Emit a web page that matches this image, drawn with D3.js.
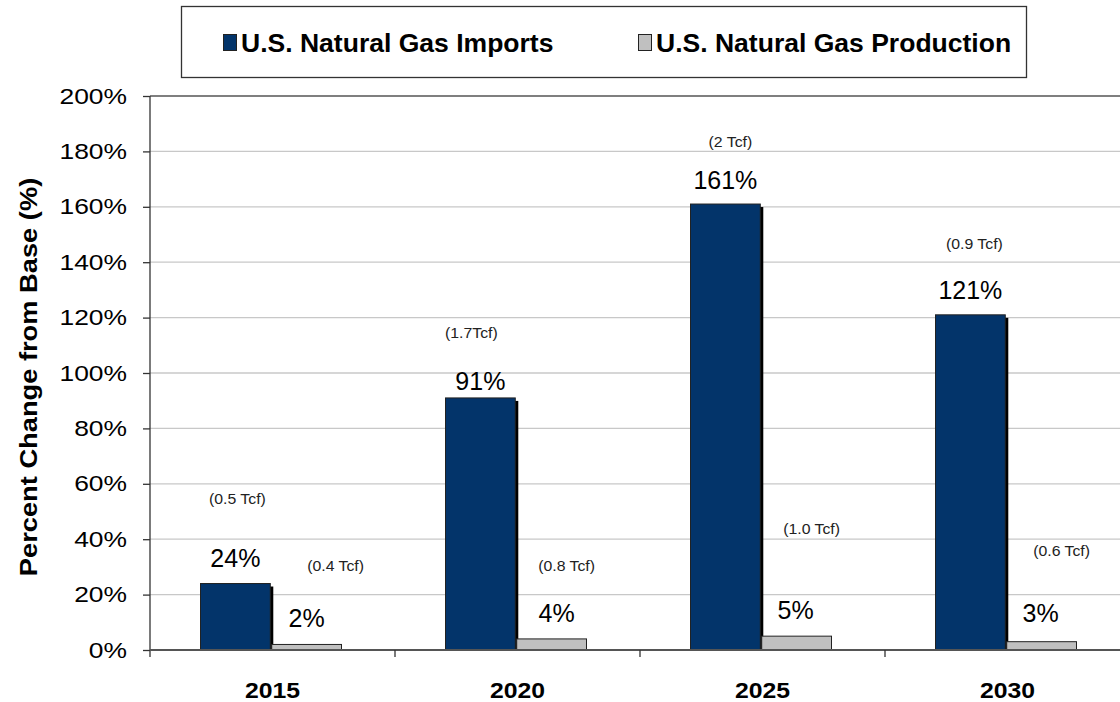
<!DOCTYPE html>
<html><head><meta charset="utf-8">
<script src="https://cdn.jsdelivr.net/npm/d3@7"></script>
<style>
html,body{margin:0;padding:0;background:#fff;}
svg{display:block;font-family:Arial,"Liberation Sans",sans-serif;}
</style></head>
<body><svg id="c" width="1120" height="702"></svg>
<script>
const categories = ["2015", "2020", "2025", "2030"];
const seriesNames = ["U.S. Natural Gas Imports", "U.S. Natural Gas Production"];
const importsPct = [24, 91, 161, 121];
const productionPct = [2, 4, 5, 3];
const importsTcf = ["(0.5 Tcf)", "(1.7Tcf)", "(2 Tcf)", "(0.9 Tcf)"];
const productionTcf = ["(0.4 Tcf)", "(0.8 Tcf)", "(1.0 Tcf)", "(0.6 Tcf)"];
const yTicks = [0, 20, 40, 60, 80, 100, 120, 140, 160, 180, 200];
// annotation anchors (value level in %, horizontal offset from bar centre in px)
const importsPctAt = [33.2, 97.1, 169.7, 130];
const importsTcfAt = [54.5, 114.4, 183.4, 146.6];
const importsTcfDx = [2, -9, 5, 4];
const productionPctAt = [11.6, 13.4, 14.4, 13.4];
const productionPctDx = [0, 5, -1, -1];
const productionTcfAt = [30.3, 30.3, 43.7, 35.7];
const productionTcfDx = [29, 15, 15, 20];

const colors = ["#03346a", "#c0c0c0"];
const svg = d3.select("#c");
const pLeft = 150, pRight = 1130, pTop = 96, pBottom = 650;

function stretch(sel, f) {
  sel.each(function () {
    const w = this.getComputedTextLength();
    d3.select(this).attr("textLength", w * f).attr("lengthAdjust", "spacingAndGlyphs");
  });
}

const y = d3.scaleLinear().domain([0, 200]).range([pBottom, pTop]);
const x = d3.scaleBand().domain(categories).range([pLeft, pRight]).padding(0);
const bw = x.bandwidth();
const x1 = d3.scaleBand().domain(seriesNames).range([bw / 2 - 72, bw / 2 + 69]).paddingInner(0.02);

// gridlines
svg.append("g").selectAll("line").data(yTicks.filter(d => d > 0 && d < 200)).join("line")
  .attr("x1", pLeft).attr("x2", 1120).attr("y1", d => y(d)).attr("y2", d => y(d))
  .attr("stroke", "#c8c8c8").attr("stroke-width", 1.3);
svg.append("line").attr("x1", pLeft).attr("x2", 1120).attr("y1", y(200)).attr("y2", y(200))
  .attr("stroke", "#555").attr("stroke-width", 1.3);

// y axis
const yAxis = d3.axisLeft(y).tickValues(yTicks).tickFormat(d => d + "%").tickSize(7).tickPadding(16);
const gy = svg.append("g").attr("transform", `translate(${pLeft},0)`).call(yAxis);
gy.select(".domain").attr("stroke", "#333").attr("stroke-width", 1.3).attr("d", `M0,${pTop}V${pBottom + 7}`);
gy.selectAll(".tick line").attr("stroke", "#333").attr("stroke-width", 1.3);
gy.selectAll("text").attr("font-size", 22).attr("fill", "#000").attr("font-family", "Arial, 'Liberation Sans', sans-serif");
stretch(gy.selectAll("text"), 1.2);

// bars
const g = svg.append("g");
categories.forEach((c, i) => {
  [importsPct[i], productionPct[i]].forEach((v, k) => {
    const bx = x(c) + x1(seriesNames[k]);
    const w = x1.bandwidth();
    if (k === 0) {
      g.append("rect").attr("x", bx + 3).attr("y", y(v) + 3).attr("width", w).attr("height", y(0) - y(v) - 3)
        .attr("fill", "#000");
    }
    g.append("rect").attr("x", bx).attr("y", y(v)).attr("width", w).attr("height", y(0) - y(v))
      .attr("fill", colors[k]).attr("stroke", "#222").attr("stroke-width", 1);
  });
});

// x axis
svg.append("line").attr("x1", pLeft).attr("x2", 1120).attr("y1", y(0)).attr("y2", y(0))
  .attr("stroke", "#555").attr("stroke-width", 2);
svg.append("g").selectAll("line").data(categories.slice(1)).join("line")
  .attr("x1", d => x(d)).attr("x2", d => x(d)).attr("y1", y(0)).attr("y2", y(0) + 7)
  .attr("stroke", "#333").attr("stroke-width", 1.3);
const xl = svg.append("g").selectAll("text").data(categories).join("text")
  .attr("x", d => x(d) + bw / 2).attr("y", 698).attr("text-anchor", "middle")
  .attr("font-size", 22.5).attr("font-weight", "bold").text(d => d);
stretch(xl, 1.1);

// value labels
const lab = svg.append("g").attr("text-anchor", "middle").attr("fill", "#000");
categories.forEach((c, i) => {
  const cImp = x(c) + x1(seriesNames[0]) + x1.bandwidth() / 2;
  const cProd = x(c) + x1(seriesNames[1]) + x1.bandwidth() / 2;
  lab.append("text").attr("x", cImp).attr("y", y(importsPctAt[i])).attr("dy", "0.36em")
    .attr("font-size", 25).text(importsPct[i] + "%");
  lab.append("text").attr("class", "tcf").attr("x", cImp + importsTcfDx[i]).attr("y", y(importsTcfAt[i])).attr("dy", "0.36em")
    .attr("font-size", 14).attr("fill", "#222").text(importsTcf[i]);
  lab.append("text").attr("x", cProd + productionPctDx[i]).attr("y", y(productionPctAt[i])).attr("dy", "0.36em")
    .attr("font-size", 25).text(productionPct[i] + "%");
  lab.append("text").attr("class", "tcf").attr("x", cProd + productionTcfDx[i]).attr("y", y(productionTcfAt[i])).attr("dy", "0.36em")
    .attr("font-size", 14).attr("fill", "#222").text(productionTcf[i]);
});
stretch(lab.selectAll(".tcf"), 1.13);

// y title
const yt = svg.append("text").attr("transform", "translate(37,377) rotate(-90)").attr("text-anchor", "middle")
  .attr("font-size", 23.5).attr("font-weight", "bold").text("Percent Change from Base (%)");
stretch(yt, 1.16);

// legend
const lg = svg.append("g");
lg.append("rect").attr("x", 181.5).attr("y", 6.5).attr("width", 845).attr("height", 71)
  .attr("fill", "#fff").attr("stroke", "#333").attr("stroke-width", 1.3);
const legX = [223, 638];
seriesNames.forEach((s, k) => {
  lg.append("rect").attr("x", legX[k] + 0.5).attr("y", 34.5).attr("width", 13).attr("height", 16)
    .attr("fill", colors[k]).attr("stroke", "#222").attr("stroke-width", 1);
  const t = lg.append("text").attr("x", legX[k] + 18).attr("y", 52).attr("font-size", 25.5).attr("font-weight", "bold").text(s);
  stretch(t, 1.04);
});
</script></body></html>
